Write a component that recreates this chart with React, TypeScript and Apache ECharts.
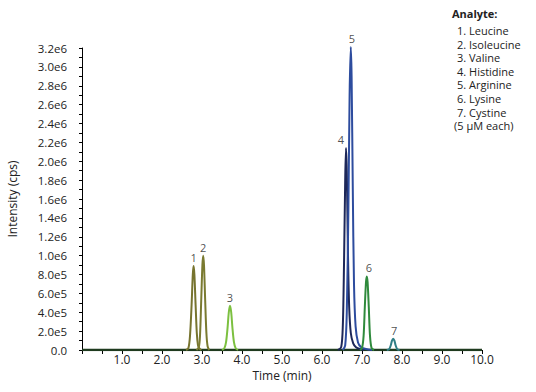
import React, { useEffect, useRef } from "react";
import * as echarts from "echarts";

const peakNames = ["1", "2", "3", "4", "5", "6", "7"];
const peakColors = ["#77742f", "#7a7a30", "#7cc040", "#1d2758", "#2d4c9e", "#2f8a3c", "#2f7e86"];

const leucine: [number, number][] = [[2.6, 0], [2.66, 2e4], [2.7, 1.5e5], [2.74, 4.8e5], [2.77, 8.0e5], [2.79, 8.9e5], [2.81, 8.0e5], [2.84, 4.8e5], [2.87, 1.8e5], [2.9, 5e4], [2.93, 2e4], [2.98, 0]];
const isoleucine: [number, number][] = [[2.86, 0], [2.92, 3e4], [2.95, 1.5e5], [2.98, 5.2e5], [3.01, 9.0e5], [3.03, 1.0e6], [3.05, 9.0e5], [3.08, 5.2e5], [3.11, 1.8e5], [3.14, 4e4], [3.18, 0]];
const valine: [number, number][] = [[3.5, 0], [3.56, 2e4], [3.6, 8e4], [3.64, 2.4e5], [3.67, 4.0e5], [3.7, 4.7e5], [3.73, 4.0e5], [3.76, 2.4e5], [3.8, 8e4], [3.84, 2e4], [3.9, 0]];
const histidine: [number, number][] = [[6.4, 0], [6.48, 3e4], [6.52, 2.5e5], [6.55, 9.0e5], [6.58, 1.8e6], [6.6, 2.14e6], [6.62, 1.9e6], [6.65, 1.0e6], [6.68, 4.5e5], [6.72, 1.8e5], [6.78, 7e4], [6.85, 3e4], [6.95, 1e4], [7.05, 0]];
const arginine: [number, number][] = [[6.52, 0], [6.58, 5e4], [6.62, 4.0e5], [6.66, 1.5e6], [6.69, 2.7e6], [6.72, 3.21e6], [6.74, 2.9e6], [6.77, 1.7e6], [6.8, 7.0e5], [6.84, 2.5e5], [6.9, 8e4], [6.98, 3e4], [7.1, 1e4], [7.25, 0]];
const lysine: [number, number][] = [[6.95, 0], [7.0, 2e4], [7.04, 1.5e5], [7.07, 4.5e5], [7.1, 7.2e5], [7.12, 7.8e5], [7.14, 7.2e5], [7.17, 4.5e5], [7.2, 1.5e5], [7.24, 2e4], [7.3, 0]];
const cystine: [number, number][] = [[7.62, 0], [7.68, 1e4], [7.72, 5e4], [7.75, 1.0e5], [7.78, 1.2e5], [7.81, 1.0e5], [7.84, 5e4], [7.88, 1e4], [7.94, 0]];
const baseline: [number, number][] = [[0, 0], [10, 0]];

const peaks = [leucine, isoleucine, valine, histidine, arginine, lysine, cystine];
const labelOffsets: [number, number][] = [[0, 0], [0, 0], [0, 0], [-5, 0], [1, 0], [2, 0], [1, 0]];

const legendTitle = "Analyte:";
const legendLines = ["1. Leucine", "2. Isoleucine", "3. Valine", "4. Histidine", "5. Arginine", "6. Lysine", "7. Cystine", "(5 µM each)"];

const FONT = "'Open Sans', 'Noto Sans', sans-serif";

export default function App() {
  const ref = useRef<HTMLDivElement>(null);
  useEffect(() => {
    if (!ref.current) return;
    const chart = echarts.init(ref.current, undefined, { renderer: "svg" });
    const apex = peaks.map((p) => p.reduce((a, b) => (b[1] > a[1] ? b : a)));
    const series: any[] = [
      {
        type: "line",
        data: baseline,
        showSymbol: false,
        lineStyle: { color: "#1f3b1f", width: 2.5 },
        z: 1,
      },
      ...peaks.map((p, i) => ({
        type: "line",
        data: p,
        smooth: 0.3,
        showSymbol: false,
        clip: false,
        lineStyle: { color: peakColors[i], width: 2 },
        z: 2,
      })),
      {
        type: "scatter",
        symbolSize: 0,
        clip: false,
        data: apex.map((a, i) => ({
          value: a,
          label: {
            show: true,
            formatter: peakNames[i],
            position: "top",
            distance: 3,
            offset: labelOffsets[i],
            color: "#222",
          },
        })),
        label: { color: "#222", fontSize: 11, fontFamily: FONT },
        z: 3,
      },
    ];
    chart.setOption({
      animation: false,
      grid: { left: 82, right: 54, top: 48, bottom: 42, containLabel: false, outerBoundsMode: "none" },
      xAxis: {
        type: "value",
        min: 0,
        max: 10,
        interval: 1,
        name: "Time (min)",
        nameLocation: "middle",
        nameGap: 15,
        nameTextStyle: { color: "#222", fontSize: 12, fontFamily: FONT },
        axisLine: { lineStyle: { color: "#000", width: 1 } },
        axisTick: { show: true, length: 4, lineStyle: { color: "#000" } },
        minorTick: { show: true, splitNumber: 2, length: 4, lineStyle: { color: "#000" } },
        splitLine: { show: false },
        axisLabel: {
          color: "#222",
          fontSize: 12,
          fontFamily: FONT,
          margin: 3,
          formatter: (v: number) => (v === 0 ? "" : v.toFixed(1)),
        },
      },
      yAxis: {
        type: "value",
        min: 0,
        max: 3.2e6,
        interval: 2e5,
        name: "Intensity (cps)",
        nameLocation: "middle",
        nameGap: 64,
        nameTextStyle: { color: "#222", fontSize: 12, fontFamily: FONT },
        axisLine: { show: true, lineStyle: { color: "#000", width: 1 } },
        axisTick: { show: true, length: 3, lineStyle: { color: "#000" } },
        minorTick: { show: true, splitNumber: 2, length: 3, lineStyle: { color: "#000" } },
        splitLine: { show: false },
        axisLabel: {
          color: "#222",
          fontSize: 11.5,
          fontFamily: FONT,
          margin: 15,
          formatter: (v: number) => (v === 0 ? "0.0" : v.toExponential(1).replace("e+", "e")),
        },
      },
      graphic: [
        {
          type: "text",
          left: 452,
          top: 8,
          style: { text: legendTitle, fontSize: 11, fontWeight: "bold", fill: "#222", fontFamily: FONT },
        },
        ...legendLines.map((t, i) => ({
          type: "text",
          left: i === legendLines.length - 1 ? 454 : 457,
          top: 25 + i * 13.6,
          style: { text: t, fontSize: 11, fill: "#222", fontFamily: FONT },
        })),
      ],
      series,
    });
    return () => chart.dispose();
  }, []);
  return (
    <div
      ref={ref}
      style={{ position: "fixed", left: 0, top: 0, width: 536, height: 392, background: "#fff" }}
    />
  );
}
